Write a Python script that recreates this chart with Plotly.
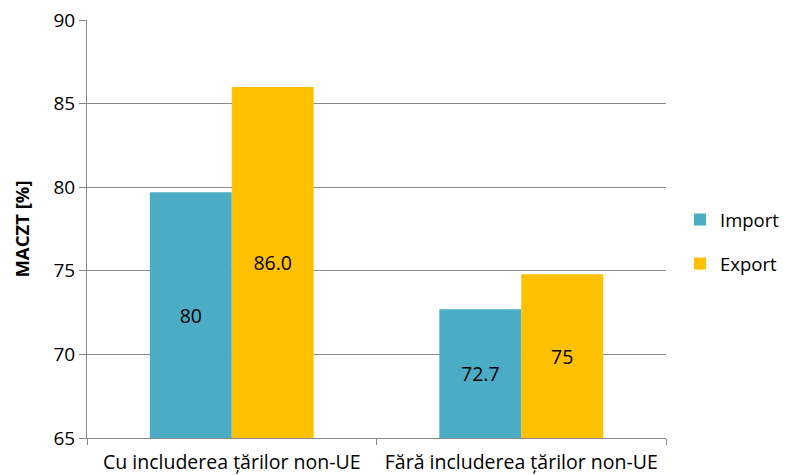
import plotly.graph_objects as go

categories = ["Cu includerea țărilor non-UE", "Fără includerea țărilor non-UE"]
import_vals = [79.7, 72.7]
export_vals = [86.0, 74.8]
import_labels = ["80", "72.7"]
export_labels = ["86.0", "75"]
y_ticks = [65, 70, 75, 80, 85, 90]
y_min, y_max = 65, 90

FONT = "Open Sans"
fig = go.Figure()
for name, vals, labels, color, grp in [
    ("Import", import_vals, import_labels, "#4BACC6", "a"),
    ("Export", export_vals, export_labels, "#FFC000", "b"),
]:
    fig.add_trace(go.Bar(
        x=categories, y=[v - y_min for v in vals], base=[y_min] * len(vals),
        name=name, text=labels,
        textposition="inside", insidetextanchor="middle",
        marker=dict(color=color, line=dict(width=0)),
        textfont=dict(family=FONT, size=19.5, color="#000000"),
        legendgroup=grp, hoverinfo="skip",
    ))
fig.update_layout(
    width=785, height=475,
    margin=dict(l=87, r=119, t=20, b=37),
    paper_bgcolor="white", plot_bgcolor="white",
    barmode="group", bargap=0.434, bargroupgap=0,
    font=dict(family=FONT, size=18, color="#000000"),
    showlegend=True,
    legend=dict(xref="container", yref="container", x=680 / 785, y=1 - 242 / 475,
                xanchor="left", yanchor="middle",
                font=dict(family=FONT, size=18.5, color="#000000"),
                tracegroupgap=17, itemwidth=30, bgcolor="rgba(0,0,0,0)"),
    yaxis=dict(range=[y_min, y_max], tickvals=y_ticks, showgrid=True,
               gridcolor="#898989", gridwidth=1, showline=True,
               linecolor="#898989", linewidth=1, ticks="outside",
               ticklen=7, tickcolor="#898989", automargin=False,
               tickfont=dict(family=FONT, size=19, color="#000000"),
               title=dict(text="<b>MACZT [%]</b>", font=dict(family=FONT, size=18.5, color="#000000"), standoff=18),
               zeroline=False),
    xaxis=dict(showline=True, linecolor="#898989", linewidth=1,
               ticks="outside", tickson="boundaries", ticklen=6, tickangle=0,
               tickcolor="#898989", automargin=False, ticklabelstandoff=7,
               tickfont=dict(family=FONT, size=19.5, color="#000000")),
)
fig.write_html("out.html", config={"displayModeBar": False},
               post_script="document.body.style.margin='0';document.body.style.overflow='hidden';")
